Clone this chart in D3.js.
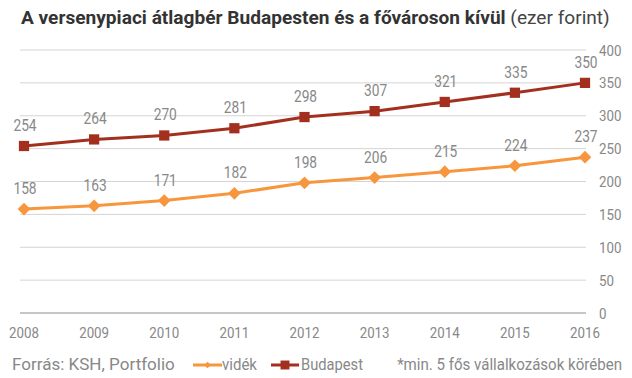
<!DOCTYPE html>
<html>
<head>
<meta charset="utf-8">
<script src="https://cdn.jsdelivr.net/npm/d3@7"></script>
<style>
  body { margin: 0; background: #fff; }
  svg text { font-family: Roboto, "Liberation Sans", sans-serif; }
</style>
</head>
<body>
<div id="chart"></div>
<script>
// chart data
const years = [2008, 2009, 2010, 2011, 2012, 2013, 2014, 2015, 2016];
const videk = [158, 163, 171, 182, 198, 206, 215, 224, 237];
const budapest = [254, 264, 270, 281, 298, 307, 321, 335, 350];
const yTicks = [0, 50, 100, 150, 200, 250, 300, 350, 400];

const width = 632, height = 378;
const gray = "#888";
const orange = "#f7963d";
const darkRed = "#a3301f";
const squeeze = 0.86; // mimic condensed font

// square rotated by 45 degrees, size = area
const rotatedSquare = {
    draw(ctx, size) {
        const r = Math.sqrt(size / 2);
        ctx.moveTo(0, -r);
        ctx.lineTo(r, 0);
        ctx.lineTo(0, r);
        ctx.lineTo(-r, 0);
        ctx.closePath();
    }
};

const svg = d3.select("#chart").append("svg")
    .attr("width", width)
    .attr("height", height);

const x = d3.scalePoint().domain(years).range([24, 585]);
const y = d3.scaleLinear().domain([0, 400]).range([313, 50]);

// helper: condensed text
function cText(g, tx, ty, str, anchor) {
    return g.append("text")
        .attr("transform", "translate(" + tx + "," + ty + ") scale(" + squeeze + ",1)")
        .attr("text-anchor", anchor || "start")
        .text(str);
}

// helper: text squeezed/stretched to a measured width
function fitText(g, tx, ty, str, anchor, w) {
    const t = g.append("text").attr("text-anchor", anchor || "start").text(str);
    const s = w / t.node().getComputedTextLength();
    t.attr("transform", "translate(" + tx + "," + ty + ") scale(" + s + ",1)");
    return t;
}

// gridlines
svg.append("g").selectAll("line")
    .data(yTicks.filter(d => d > 0))
    .join("line")
    .attr("x1", 20).attr("x2", 586)
    .attr("y1", d => y(d)).attr("y2", d => y(d))
    .attr("stroke", "#d4d4d4").attr("stroke-width", 1);

svg.append("line")
    .attr("x1", 20).attr("x2", 586)
    .attr("y1", y(0)).attr("y2", y(0))
    .attr("stroke", "#8c8c8c").attr("stroke-width", 1);

// y axis labels (right)
const yAxisG = svg.append("g").attr("fill", gray).attr("font-size", 15.5);
yTicks.forEach(t => cText(yAxisG, 599, y(t) + 5.5, t));

// x axis labels
const xAxisG = svg.append("g").attr("fill", gray).attr("font-size", 15.5);
years.forEach(yr => cText(xAxisG, x(yr), 338, yr, "middle"));

// lines
const line = d3.line().x((d, i) => x(years[i])).y(d => y(d));

function drawSeries(values, color, shape) {
    svg.append("path")
        .datum(values)
        .attr("d", line)
        .attr("fill", "none")
        .attr("stroke", color)
        .attr("stroke-width", 3);
    const sym = d3.symbol().type(shape === "square" ? d3.symbolSquare : rotatedSquare)
        .size(shape === "square" ? 105 : 80);
    svg.append("g").selectAll("path")
        .data(values)
        .join("path")
        .attr("d", sym)
        .attr("transform", (d, i) => "translate(" + x(years[i]) + "," + y(d) + ")")
        .attr("fill", color);
    const lab = svg.append("g").attr("fill", gray).attr("font-size", 16);
    values.forEach((v, i) => cText(lab, x(years[i]) + 1, y(v) - 15, v, "middle"));
}

drawSeries(budapest, darkRed, "square");
drawSeries(videk, orange, "diamond");

// title
const title = svg.append("text")
    .attr("x", 0).attr("y", 0)
    .attr("font-size", 18.5)
    .attr("fill", "#333");
title.append("tspan").attr("font-weight", "bold").text("A versenypiaci átlagbér Budapesten és a fővároson kívül");
title.append("tspan").attr("fill", "#444").text(" (ezer forint)");
const tw = title.node().getComputedTextLength();
title.attr("transform", "translate(21,24) scale(" + (589 / tw) + ",1)");

// footer
const foot = svg.append("g").attr("fill", gray).attr("font-size", 16);
fitText(foot, 12, 370, "Forrás: KSH, Portfolio", "start", 163);
fitText(foot, 622, 370, "*min. 5 fős vállalkozások körében", "end", 225);

// legend
const legend = svg.append("g");
const legText = legend.append("g").attr("fill", gray).attr("font-size", 16);
legend.append("line").attr("x1", 193).attr("x2", 222).attr("y1", 365).attr("y2", 365)
    .attr("stroke", orange).attr("stroke-width", 3);
legend.append("path").attr("d", d3.symbol().type(rotatedSquare).size(22))
    .attr("transform", "translate(207.5,365)").attr("fill", orange);
fitText(legText, 222, 370, "vidék", "start", 35);
legend.append("line").attr("x1", 271).attr("x2", 299).attr("y1", 365).attr("y2", 365)
    .attr("stroke", darkRed).attr("stroke-width", 3);
legend.append("path").attr("d", d3.symbol().type(d3.symbolSquare).size(80))
    .attr("transform", "translate(285,365)").attr("fill", darkRed);
fitText(legText, 301, 370, "Budapest", "start", 62);
</script>
</body>
</html>
